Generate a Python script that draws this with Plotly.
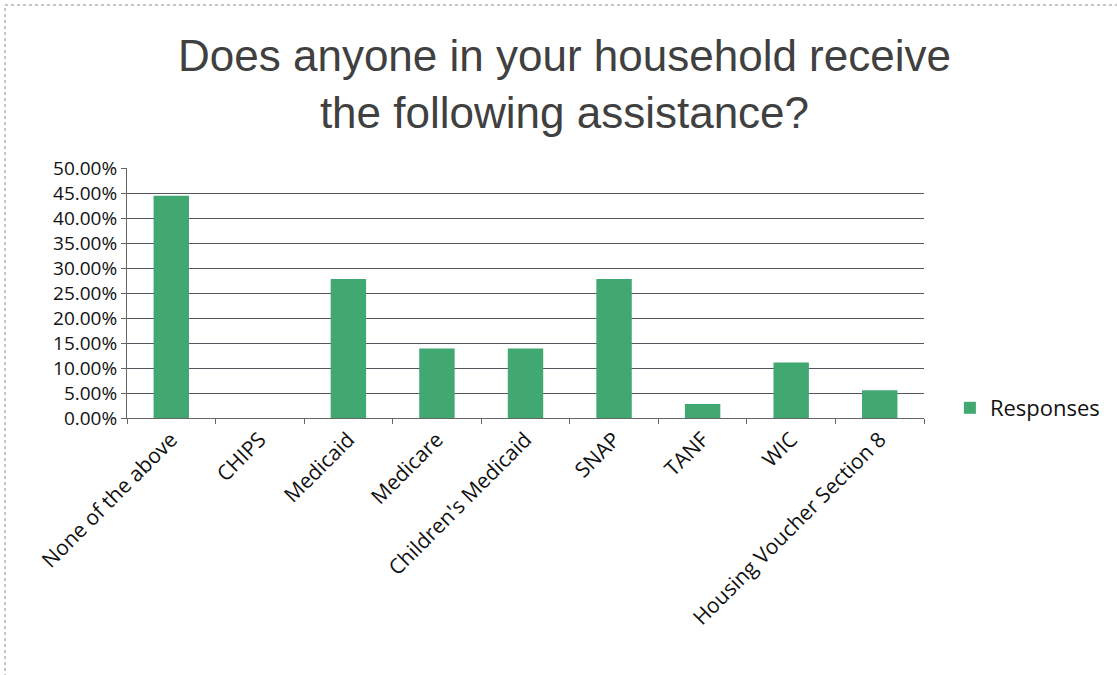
import plotly.graph_objects as go

# Share of households receiving each type of assistance
categories = [
    "None of the above",
    "CHIPS",
    "Medicaid",
    "Medicare",
    "Children's Medicaid",
    "SNAP",
    "TANF",
    "WIC",
    "Housing Voucher Section 8",
]
responses = [0.4444, 0.0, 0.2778, 0.1389, 0.1389, 0.2778, 0.0278, 0.1111, 0.0556]

y_ticks = [i * 0.05 for i in range(11)]

TITLE = "Does anyone in your household receive<br>the following assistance?"

BAR_COLOR = "#41a872"
GRID_COLOR = "#55555f"
LABEL_FONT = "Open Sans, Noto Sans, sans-serif"

fig = go.Figure()
fig.add_trace(
    go.Bar(
        x=categories,
        y=responses,
        name="Responses",
        marker=dict(color=BAR_COLOR, line=dict(width=0)),
        width=0.4,
        showlegend=True,
    )
)

fig.update_layout(
    width=1117,
    height=675,
    margin=dict(l=127, r=190, t=168, b=257),
    paper_bgcolor="white",
    plot_bgcolor="white",
    legend=dict(
        x=1.0325,
        y=0.04,
        xanchor="left",
        yanchor="middle",
        font=dict(family=LABEL_FONT, size=22, color="#111111"),
        itemwidth=30,
        bgcolor="rgba(0,0,0,0)",
    ),
    showlegend=True,
    bargap=0.6,
)

# Chart title, two centred lines above the plot
fig.add_annotation(
    text=TITLE,
    xref="paper",
    yref="paper",
    x=0.549,
    y=1.336,
    xanchor="center",
    yanchor="middle",
    showarrow=False,
    align="center",
    font=dict(family="Liberation Sans, Arial, sans-serif", size=44, color="#404040"),
)

fig.update_yaxes(
    range=[0, 0.5],
    tickvals=y_ticks,
    tickformat=".2%",
    showgrid=True,
    gridcolor=GRID_COLOR,
    gridwidth=1,
    showline=True,
    linecolor="#666666",
    linewidth=1,
    ticks="outside",
    ticklen=5,
    tickcolor="#666666",
    tickfont=dict(family=LABEL_FONT, size=19, color="#111111"),
    zeroline=False,
)

fig.update_xaxes(
    tickangle=-45,
    tickson="boundaries",
    ticks="outside",
    ticklen=5,
    tickcolor="#666666",
    showline=True,
    linecolor="#666666",
    linewidth=1,
    showgrid=False,
    tickfont=dict(family=LABEL_FONT, size=21, color="#111111"),
)

# Frame along the top and left of the chart
fig.add_shape(
    type="rect",
    xref="paper",
    yref="paper",
    x0=-0.153,
    x1=1.5,
    y0=-1.5,
    y1=1.652,
    line=dict(color="#8a8a8a", width=1, dash="dot"),
)

fig.write_html("out.html")
